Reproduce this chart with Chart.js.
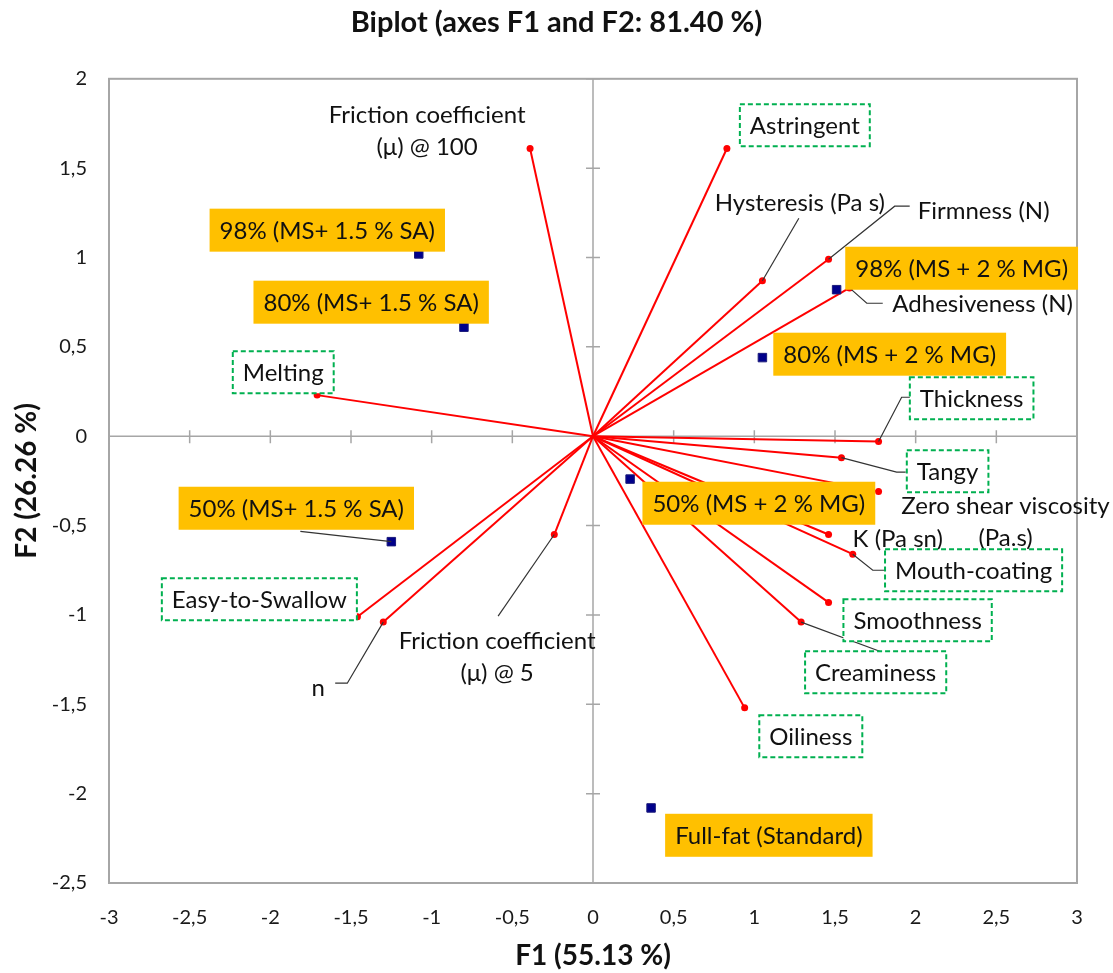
<!DOCTYPE html>
<html>
<head>
<meta charset="utf-8">
<script src="https://cdn.jsdelivr.net/npm/chart.js@4.4.1/dist/chart.umd.min.js"></script>
<style>
  html, body { margin: 0; padding: 0; background: #fff; }
  #wrap { width: 1113px; height: 973px; }
</style>
</head>
<body>
<div id="wrap"><canvas id="biplot" width="1113" height="973"></canvas></div>
<script>
// variables (red loading vectors)
const varNames = ['Friction coefficient\n(μ) @ 100', 'Melting', 'Astringent', 'Hysteresis (Pa s)', 'Firmness (N)',
  'Adhesiveness (N)', 'Thickness', 'Tangy', 'Zero shear viscosity\n(Pa.s)', 'K (Pa sn)', 'Mouth-coating',
  'Smoothness', 'Creaminess', 'Oiliness', 'Friction coefficient\n(μ) @ 5', 'Easy-to-Swallow', 'n'];
const varF1 = [-0.39, -1.71, 0.83, 1.05, 1.46, 1.59, 1.77, 1.54, 1.77, 1.46, 1.61, 1.46, 1.29, 0.94, -0.24, -1.46, -1.30];
const varF2 = [1.61, 0.23, 1.61, 0.87, 0.99, 0.83, -0.03, -0.12, -0.31, -0.55, -0.66, -0.93, -1.04, -1.52, -0.55, -1.01, -1.04];

// samples (observations)
const obsNames = ['98% (MS+ 1.5 % SA)', '80% (MS+ 1.5 % SA)', '50% (MS+ 1.5 % SA)', '98% (MS + 2 % MG)',
  '80% (MS + 2 % MG)', '50% (MS + 2 % MG)', 'Full-fat (Standard)'];
const obsF1 = [-1.08, -0.80, -1.25, 1.51, 1.05, 0.23, 0.36];
const obsF2 = [1.02, 0.61, -0.59, 0.82, 0.44, -0.24, -2.08];

const f1Ticks = [-3, -2.5, -2, -1.5, -1, -0.5, 0, 0.5, 1, 1.5, 2, 2.5, 3];
const f2Ticks = [-2.5, -2, -1.5, -1, -0.5, 0, 0.5, 1, 1.5, 2];

// label placement in chart units (box style + optional leader line towards the mark)
const varLabelLayout = [
  { at: [-1.028, 1.713], box: 'none' },
  { at: [-1.920, 0.358], box: 'green' },
  { at: [1.313, 1.740], box: 'green' },
  { at: [1.282, 1.309], box: 'none', leader: [[1.276, 1.220]] },
  { at: [2.421, 1.265], box: 'none', leader: [[1.963, 1.287], [1.870, 1.287]] },
  { at: [2.415, 0.744], box: 'none', leader: [[1.796, 0.744], [1.697, 0.744]] },
  { at: [2.347, 0.213], box: 'green', leader: [[1.975, 0.218], [1.913, 0.218]] },
  { at: [2.198, -0.196], box: 'green', leader: [[1.938, -0.201], [1.882, -0.201]] },
  { at: [2.557, -0.476], box: 'none' },
  { at: [1.889, -0.571], box: 'none' },
  { at: [2.359, -0.750], box: 'green', leader: [[1.814, -0.750], [1.734, -0.750]] },
  { at: [2.012, -1.030], box: 'green' },
  { at: [1.752, -1.321], box: 'green', leader: [[1.777, -1.203]] },
  { at: [1.350, -1.679], box: 'green' },
  { at: [-0.594, -1.231], box: 'none', leader: [[-0.588, -1.007]] },
  { at: [-2.068, -0.912], box: 'green' },
  { at: [-1.703, -1.405], box: 'none', leader: [[-1.598, -1.382], [-1.523, -1.382]] }
];
const obsLabelLayout = [
  { at: [-1.647, 1.153] },
  { at: [-1.375, 0.750] },
  { at: [-1.839, -0.403], leader: [[-1.814, -0.532]] },
  { at: [2.285, 0.940] },
  { at: [1.839, 0.459] },
  { at: [1.028, -0.375] },
  { at: [1.090, -2.233] }
];

const FONT = 'Lato, "Open Sans", sans-serif';
const fmt = v => String(v).replace('.', ',');

function drawLabel(ctx, text, box, cx, cy) {
  const lines = text.split('\n');
  ctx.font = '24px ' + FONT;
  const w = Math.max(...lines.map(l => ctx.measureText(l).width));
  if (box === 'orange') {
    ctx.fillStyle = '#ffc000';
    ctx.fillRect(cx - w / 2 - 10, cy - 21.5, w + 20, 43);
  } else if (box === 'green') {
    ctx.fillStyle = '#fff';
    ctx.fillRect(cx - w / 2 - 10, cy - 21, w + 20, 42);
    ctx.setLineDash([5, 3]);
    ctx.strokeStyle = '#00b050';
    ctx.lineWidth = 2;
    ctx.strokeRect(cx - w / 2 - 10, cy - 21, w + 20, 42);
    ctx.setLineDash([]);
  }
  ctx.fillStyle = '#111';
  ctx.textAlign = 'center';
  ctx.textBaseline = 'middle';
  lines.forEach((l, k) => ctx.fillText(l, cx, cy + 1 + (k - (lines.length - 1) / 2) * 32));
}

function drawLeader(ctx, x, y, pts, end) {
  ctx.beginPath();
  pts.concat([end]).forEach((p, k) => {
    const px = x.getPixelForValue(p[0]), py = y.getPixelForValue(p[1]);
    if (k === 0) ctx.moveTo(px, py); else ctx.lineTo(px, py);
  });
  ctx.strokeStyle = '#333';
  ctx.lineWidth = 1.2;
  ctx.stroke();
}

const biplotDecor = {
  id: 'biplotDecor',
  beforeDatasetsDraw(chart) {
    const { ctx, chartArea: a, scales: { x, y } } = chart;
    ctx.save();
    ctx.strokeStyle = '#a6a6a6';
    ctx.lineWidth = 2;
    ctx.strokeRect(a.left, a.top, a.right - a.left, a.bottom - a.top);
    const x0 = x.getPixelForValue(0), y0 = y.getPixelForValue(0);
    ctx.lineWidth = 1.5;
    ctx.beginPath();
    ctx.moveTo(a.left, y0); ctx.lineTo(a.right, y0);
    ctx.moveTo(x0, a.top); ctx.lineTo(x0, a.bottom);
    x.ticks.forEach(t => {
      const px = x.getPixelForValue(t.value);
      ctx.moveTo(px, y0 - 6); ctx.lineTo(px, y0 + 7);
    });
    y.ticks.forEach(t => {
      const py = y.getPixelForValue(t.value);
      ctx.moveTo(x0 - 7, py); ctx.lineTo(x0 + 7, py);
    });
    ctx.stroke();
    ctx.restore();
  },
  afterDatasetsDraw(chart) {
    const { ctx, scales: { x, y } } = chart;
    ctx.save();
    varLabelLayout.forEach((L, i) => {
      if (L.leader) drawLeader(ctx, x, y, L.leader, [varF1[i], varF2[i]]);
    });
    obsLabelLayout.forEach((L, i) => {
      if (L.leader) drawLeader(ctx, x, y, L.leader, [obsF1[i], obsF2[i]]);
    });
    varLabelLayout.forEach((L, i) => {
      drawLabel(ctx, varNames[i], L.box, x.getPixelForValue(L.at[0]), y.getPixelForValue(L.at[1]));
    });
    obsLabelLayout.forEach((L, i) => {
      drawLabel(ctx, obsNames[i], 'orange', x.getPixelForValue(L.at[0]), y.getPixelForValue(L.at[1]));
    });
    ctx.restore();
  }
};

const vectorSets = varNames.map((name, i) => ({
  type: 'line',
  label: name,
  data: [{ x: 0, y: 0 }, { x: varF1[i], y: varF2[i] }],
  showLine: true,
  borderColor: '#ff0000',
  borderWidth: 2,
  pointRadius: [0, 3.5],
  pointBackgroundColor: '#ff0000',
  pointBorderWidth: 0,
  order: 2
}));

const obsSet = {
  type: 'scatter',
  label: 'Observations',
  data: obsF1.map((v, i) => ({ x: v, y: obsF2[i] })),
  pointStyle: 'rect',
  pointRadius: 6,
  backgroundColor: '#00008b',
  borderColor: '#1a1a7a',
  borderWidth: 1,
  order: 1
};

const tickFont = { family: FONT, size: 20 };

new Chart(document.getElementById('biplot'), {
  type: 'scatter',
  data: { datasets: vectorSets.concat([obsSet]) },
  options: {
    responsive: false,
    devicePixelRatio: 1,
    animation: false,
    layout: { padding: 0 },
    plugins: {
      legend: { display: false },
      tooltip: { enabled: false },
      title: {
        display: true,
        text: 'Biplot (axes F1 and F2: 81.40 %)',
        color: '#111',
        font: { family: FONT, size: 29, weight: 'bold' },
        padding: { top: 5, bottom: 39 }
      }
    },
    scales: {
      x: {
        type: 'linear', min: -3, max: 3,
        afterBuildTicks: s => { s.ticks = f1Ticks.map(v => ({ value: v })); },
        afterFit: s => { s.height = 90; },
        grid: { display: false, drawTicks: false },
        border: { display: false },
        ticks: { font: tickFont, color: '#1a1a1a', padding: 23, maxRotation: 0, autoSkip: false, callback: fmt },
        title: {
          display: true, text: 'F1 (55.13 %)', color: '#111',
          font: { family: FONT, size: 28, weight: 'bold' },
          padding: { top: 0, bottom: 0 }
        }
      },
      y: {
        type: 'linear', min: -2.5, max: 2,
        afterBuildTicks: s => { s.ticks = f2Ticks.map(v => ({ value: v })); },
        afterFit: s => { s.width = 109; },
        grid: { display: false, drawTicks: false },
        border: { display: false },
        ticks: { font: tickFont, color: '#1a1a1a', padding: 22, autoSkip: false, callback: fmt },
        title: {
          display: true, text: 'F2 (26.26 %)', color: '#111',
          font: { family: FONT, size: 28, weight: 'bold' },
          padding: { top: 10, bottom: 0 }
        }
      },
      yR: {
        type: 'linear', position: 'right', min: -2.5, max: 2,
        afterFit: s => { s.width = 36; },
        grid: { display: false, drawTicks: false },
        border: { display: false },
        ticks: { display: false }
      }
    }
  },
  plugins: [biplotDecor]
});
</script>
</body>
</html>
